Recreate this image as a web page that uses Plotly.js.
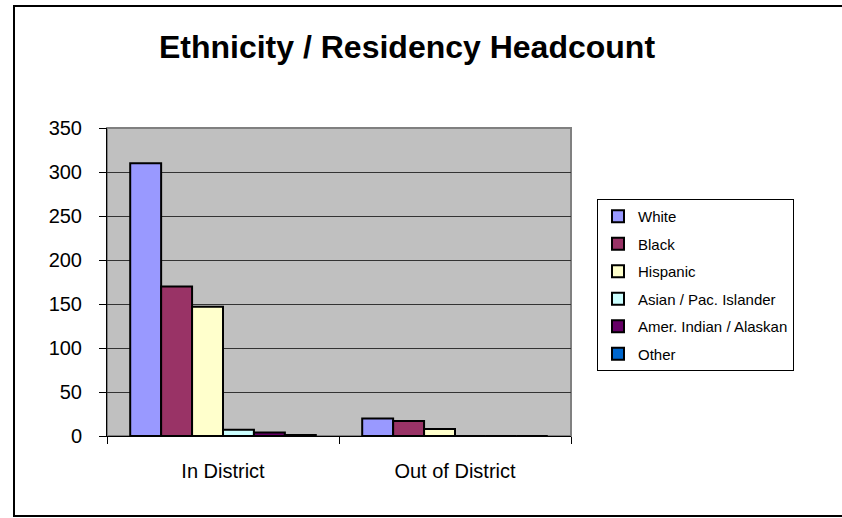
<!DOCTYPE html>
<html>
<head>
<meta charset="utf-8">
<script src="https://cdn.plot.ly/plotly-3.0.1.min.js"></script>
<style>html,body{margin:0;padding:0;background:#fff;}#chart{width:842px;height:518px;}</style>
</head>
<body>
<div id="chart"></div>
<script>
const categories = ["In District", "Out of District"];
const seriesNames = ["White", "Black", "Hispanic", "Asian / Pac. Islander", "Amer. Indian / Alaskan", "Other"];
const white = [310, 20];
const black = [170, 17];
const hispanic = [147, 8];
const asian = [7, 0];
const amerIndian = [4, 0];
const other = [1, 0];
const yTicks = [0, 50, 100, 150, 200, 250, 300, 350];
const colors = ["#9999FF", "#993366", "#FFFFCC", "#CCFFFF", "#660066", "#0066CC"];

const seriesValues = [white, black, hispanic, asian, amerIndian, other];
const traces = seriesValues.map((vals, i) => ({
  type: "bar",
  name: seriesNames[i],
  x: categories,
  y: vals,
  legendgroup: "g" + i,
  marker: {color: colors[i], line: {color: "#000", width: 2}}
}));

const L = 107, R = 571, T = 128, B = 436, W = 842, H = 518;
const pw = R - L, ph = B - T;
const px = v => (v - L) / pw;
const py = v => (B - v) / ph;

const layout = {
  width: W, height: H,
  margin: {l: L, r: W - R, t: T, b: H - B, pad: 0},
  paper_bgcolor: "#fff",
  plot_bgcolor: "#C0C0C0",
  barmode: "group",
  bargap: 0.2,
  bargroupgap: 0,
  font: {family: "Arial, Liberation Sans, sans-serif", color: "#000"},
  title: {
    text: "<b>Ethnicity / Residency Headcount</b>",
    font: {size: 32, family: "Arial, Liberation Sans, sans-serif", color: "#000"},
    x: 407 / W, xanchor: "center",
    y: 1 - 47 / H, yanchor: "middle"
  },
  xaxis: {
    type: "category",
    tickson: "boundaries",
    ticks: "outside", ticklen: 7, tickcolor: "#000", tickwidth: 1,
    showline: true, linecolor: "#000", linewidth: 1,
    showgrid: false,
    tickfont: {size: 20},
    ticklabelstandoff: 17,
    automargin: false
  },
  yaxis: {
    range: [0, 350],
    tickvals: yTicks,
    ticks: "outside", ticklen: 7, tickcolor: "#000", tickwidth: 1,
    showline: true, linecolor: "#000", linewidth: 1,
    showgrid: true, gridcolor: "#333", gridwidth: 1,
    zeroline: false,
    tickfont: {size: 20},
    ticklabelstandoff: 13,
    automargin: false
  },
  legend: {
    x: px(597), xanchor: "left",
    y: py(199), yanchor: "top",
    bgcolor: "#fff",
    bordercolor: "#000", borderwidth: 1,
    font: {size: 15, family: "Arial, Liberation Sans, sans-serif"},
    tracegroupgap: 5,
    traceorder: "grouped"
  },
  shapes: [
    {type: "rect", xref: "paper", yref: "paper", x0: 0, x1: 1, y0: 0, y1: 1,
     line: {color: "#808080", width: 2}, layer: "below"},
    {type: "rect", xref: "paper", yref: "paper",
     x0: px(14), x1: px(846), y0: py(516), y1: py(6),
     line: {color: "#000", width: 2}}
  ]
};

Plotly.newPlot("chart", traces, layout, {displayModeBar: false, staticPlot: true});
</script>
</body>
</html>
